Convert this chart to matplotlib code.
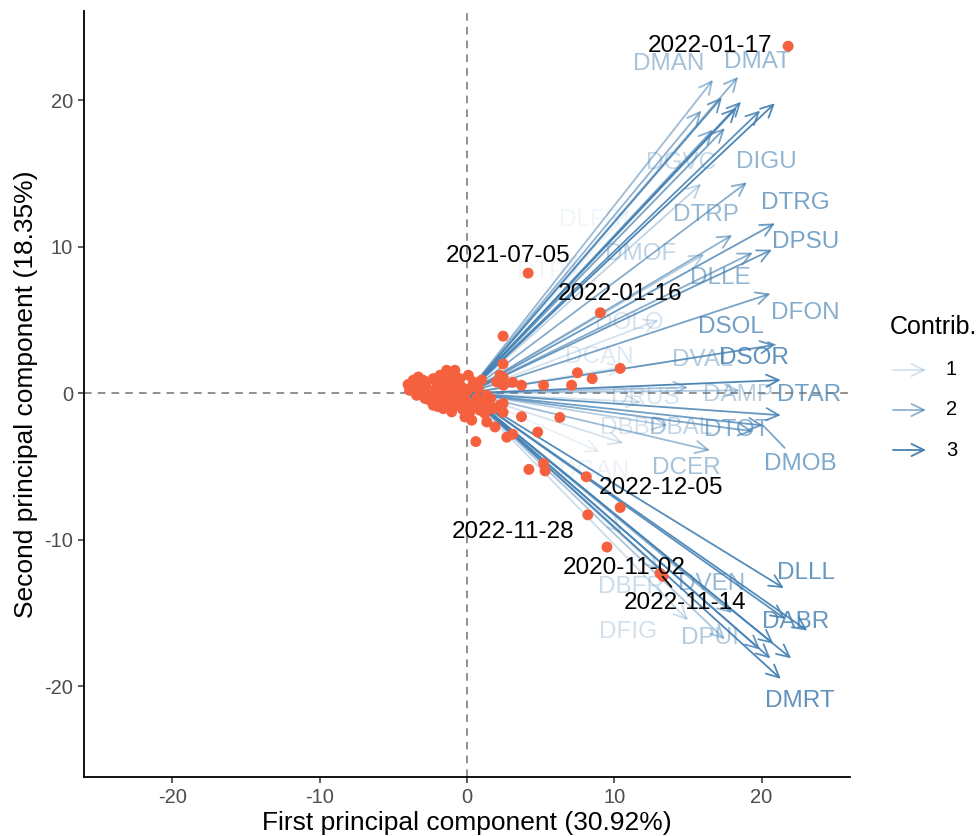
import numpy as np
import matplotlib
matplotlib.use("Agg")
import matplotlib.pyplot as plt

plt.rcParams['font.family'] = ['Liberation Sans', 'DejaVu Sans']
plt.rcParams['axes.unicode_minus'] = False

# observation scores (PC1, PC2)
pc1 = [-3.65, -3.76, -3.31, -2.97, -3.19, -2.85, -3.42, -2.29, -2.06, -2.40,
       -1.83, -1.38, -1.49, -1.15, -0.93, -0.48, -0.36, -0.70, -1.27, -1.83,
       -2.29, -1.61, -1.04, -0.59, -0.02, 0.20, -0.14, 0.32, 0.09, 0.43,
       0.77, 0.66, 1.11, 1.34, 1.56, 0.88, 1.22, 1.79, 2.24, 2.02,
       2.24, 2.47, 1.34, 1.90, -2.74, -1.61, -1.95, -0.93, -2.51, -0.36,
       -1.27, -0.02, -0.82, -4.00, -3.90, -3.50, -3.00, -2.60, -2.20, -1.70,
       -1.00, -0.60, -1.40, -0.30, 0.50, 0.30, -2.00, -2.80, 1.00,
       2.45, 2.45, 2.45, 3.10, 3.70, 5.20, 7.10, 7.50, 8.50, 10.40,
       1.60, 2.45, 2.45, 3.70, 6.30, 4.80, 2.70, 3.10, 0.60, 4.20,
       5.20, 5.30, 8.10, 10.40, 8.20, 9.50, 13.10, 13.30, 21.80, 4.15, 9.05]
pc2 = [0.89, 0.32, 1.11, 0.55, -0.02, -0.36, -0.14, 1.00, 0.43, 0.09,
       1.23, 1.57, 0.89, 0.32, 1.11, 1.00, 0.43, -0.14, -0.36, -0.59,
       -0.82, -1.05, -1.27, -0.82, -0.59, -1.27, -1.62, -1.84, 1.23, 0.77,
       0.32, -0.36, -0.59, -0.14, -0.82, -1.16, -1.39, -1.05, -0.82, 0.77,
       1.23, 0.55, -1.96, -2.30, 0.77, 0.09, -0.25, -0.59, -0.48, -0.48,
       0.66, 0.09, 1.57, 0.60, 0.20, 0.40, 0.90, 0.20, -0.30, 0.60,
       0.70, 0.20, -0.90, -1.10, -0.90, 0.40, -0.90, 0.20, 0.90,
       3.90, 2.00, 1.10, 0.75, 0.55, 0.55, 0.55, 1.40, 1.00, 1.70,
       -0.35, -0.70, -1.30, -1.60, -1.65, -2.65, -3.00, -2.80, -3.30, -5.20,
       -4.80, -5.30, -5.70, -7.80, -8.30, -10.50, -12.30, -12.50, 23.70, 8.20, 5.50]

# labelled dates
dates = ['2022-01-17', '2021-07-05', '2022-01-16', '2022-12-05',
         '2022-11-28', '2020-11-02', '2022-11-14']
date_x = [21.8, 4.15, 9.05, 10.4, 8.2, 9.5, 13.1]
date_y = [23.7, 8.2, 5.5, -7.8, -8.3, -10.5, -12.3]
date_lx = [16.5, 2.8, 10.4, 13.2, 3.1, 10.7, 14.8]
date_ly = [23.7, 9.4, 6.8, -6.5, -9.5, -11.9, -14.3]
date_seg = [False, False, False, False, False, False, True]

# variable loadings (scaled), contribution and label placement
var_names = ['DMAN', 'DMAT', '', '', '', '', '', '', '', '',
             'DGVC', 'DIGU', 'DTRG', 'DTRP', 'DPSU', 'DLLE', 'DMOF', 'DFON',
             'DSOL', 'DSOR', 'DCAN', 'DVAL', 'DAMP', 'DTAR', 'DMOB', 'DTOT',
             'DBAL', 'DBBD', 'DRUS', 'DGAN', 'DCER', 'DLFR', 'DTPA', 'DOLO',
             'DLLL', 'DABR', '', '', '', '', 'DMRT', '', 'DVEN', 'DPUI',
             'DBFR', 'DFIG', '']
var_x = [16.7, 18.4, 17.3, 18.6, 18.3, 20.9, 19.9, 15.9, 17.5, 16.7,
         15.9, 19.0, 20.9, 18.0, 20.7, 19.4, 16.1, 20.6,
         20.9, 21.3, 10.6, 15.0, 18.5, 21.3, 20.1, 19.4,
         13.6, 10.6, 11.8, 9.0, 16.5, 11.0, 7.5, 13.0,
         21.5, 23.1, 22.0, 20.8, 20.6, 19.9, 21.3, 21.6, 18.0, 17.5,
         13.0, 15.0, 10.5]
var_y = [21.4, 21.6, 20.2, 19.9, 19.5, 19.8, 19.3, 19.3, 18.1, 18.0,
         14.3, 14.4, 11.6, 10.8, 9.8, 9.6, 9.5, 6.8,
         3.3, 0.9, 1.8, 0.4, 0.2, -1.5, -2.2, -2.6,
         -2.2, -3.4, -0.6, -4.0, -3.9, 12.5, 9.5, 5.0,
         -13.3, -16.2, -18.1, -17.1, -18.1, -17.5, -19.5, -15.4, -15.0, -16.8,
         -12.0, -15.5, -9.5]
contrib = [1.8, 2.0, 2.6, 2.7, 2.8, 2.9, 2.7, 2.0, 2.3, 2.1,
           1.3, 2.1, 2.5, 2.0, 2.5, 2.1, 1.4, 2.3,
           2.6, 2.9, 0.9, 1.6, 1.5, 2.6, 2.4, 2.2,
           1.4, 1.0, 1.0, 0.7, 1.8, 0.6, 0.6, 1.0,
           2.8, 2.8, 2.8, 2.7, 2.7, 2.6, 2.9, 2.7, 2.0, 1.6,
           1.2, 1.1, 1.0]
lab_x = [13.7, 19.7, 0, 0, 0, 0, 0, 0, 0, 0,
         14.5, 20.3, 22.3, 16.2, 23.0, 17.2, 11.8, 23.0,
         17.9, 19.5, 9.0, 16.0, 18.4, 23.2, 22.6, 18.3,
         14.5, 11.3, 12.1, 8.6, 14.9, 8.4, 5.5, 11.0,
         23.0, 22.3, 0, 0, 0, 0, 22.6, 0, 16.6, 16.5,
         11.1, 10.9, 0]
lab_y = [22.5, 22.6, 0, 0, 0, 0, 0, 0, 0, 0,
         15.7, 15.8, 13.0, 12.2, 10.3, 7.9, 9.5, 5.5,
         4.5, 2.4, 2.5, 2.25, -0.1, -0.1, -4.8, -2.5,
         -2.4, -2.4, -0.35, -5.3, -5.1, 11.8, 8.3, 4.8,
         -12.3, -15.6, 0, 0, 0, 0, -21.0, 0, -13.0, -16.7,
         -13.2, -16.3, 0]
lab_seg = ['DSOL', 'DMOB']

point_col = '#F5603F'
arrow_col = '#4682B4'


def contrib_alpha(c):
    return float(np.clip((c - 0.4) / 2.6, 0.06, 1.0))


fig = plt.figure(figsize=(9.78, 8.36), dpi=100)
ax = fig.add_axes([84 / 978, 59 / 836, 766 / 978, 766 / 836])

ax.axhline(0, color='0.45', lw=1.1, ls=(0, (5, 4)), zorder=1)
ax.axvline(0, color='0.45', lw=1.1, ls=(0, (5, 4)), zorder=1)

# loading arrows
for x, y, c in zip(var_x, var_y, contrib):
    ax.annotate('', xy=(x, y), xytext=(0, 0),
                arrowprops=dict(arrowstyle='->,head_length=0.45,head_width=0.22',
                                color=arrow_col, lw=1.3, alpha=contrib_alpha(c),
                                shrinkA=0, shrinkB=0, mutation_scale=20),
                zorder=2)

# variable labels
for name, x, y, lx, ly, c in zip(var_names, var_x, var_y, lab_x, lab_y, contrib):
    if not name:
        continue
    a = contrib_alpha(c) * 0.9
    props = None
    if name in lab_seg:
        props = dict(arrowstyle='-', color=arrow_col, alpha=a, lw=1.3,
                     shrinkA=2, shrinkB=0)
    ax.annotate(name, xy=(x, y), xytext=(lx, ly), ha='center', va='center',
                fontsize=17.5, color=arrow_col, alpha=a, arrowprops=props,
                zorder=3)

ax.scatter(pc1, pc2, s=62, color=point_col, edgecolors='none', zorder=4)

for d, x, y, lx, ly, sg in zip(dates, date_x, date_y, date_lx, date_ly, date_seg):
    props = dict(arrowstyle='-', color='black', lw=1.3, shrinkA=2, shrinkB=3) if sg else None
    ax.annotate(d, xy=(x, y), xytext=(lx, ly), ha='center', va='center',
                fontsize=17.5, color='black', arrowprops=props, zorder=5)

ax.set_xlim(-26, 26)
ax.set_ylim(-26.2, 26.1)
ax.set_xticks([-20, -10, 0, 10, 20])
ax.set_yticks([-20, -10, 0, 10, 20])
for s in ['top', 'right']:
    ax.spines[s].set_visible(False)
for s in ['left', 'bottom']:
    ax.spines[s].set_linewidth(1.3)
ax.tick_params(labelsize=14.5, labelcolor='#4D4D4D', color='#333333',
               length=4, width=1.1, pad=4)
ax.set_xlabel('First principal component (30.92%)', fontsize=19, labelpad=3)
ax.set_ylabel('Second principal component (18.35%)', fontsize=19, labelpad=4)

# legend for contribution
fig.text(890 / 978, 1 - 327 / 836, 'Contrib.', fontsize=18, ha='left', va='center')
for lev, ypx in zip([1, 2, 3], [370, 410, 450]):
    yf = 1 - ypx / 836
    fig.patches.append(matplotlib.patches.FancyArrowPatch(
        (893 / 978, yf), (926 / 978, yf), transform=fig.transFigure,
        arrowstyle='->,head_length=0.45,head_width=0.22', mutation_scale=20,
        color=arrow_col, lw=1.3, alpha=contrib_alpha(lev), shrinkA=0, shrinkB=0))
    fig.text(946 / 978, yf, str(lev), fontsize=14.5, ha='left', va='center')

fig.savefig('out.png', dpi=100)
